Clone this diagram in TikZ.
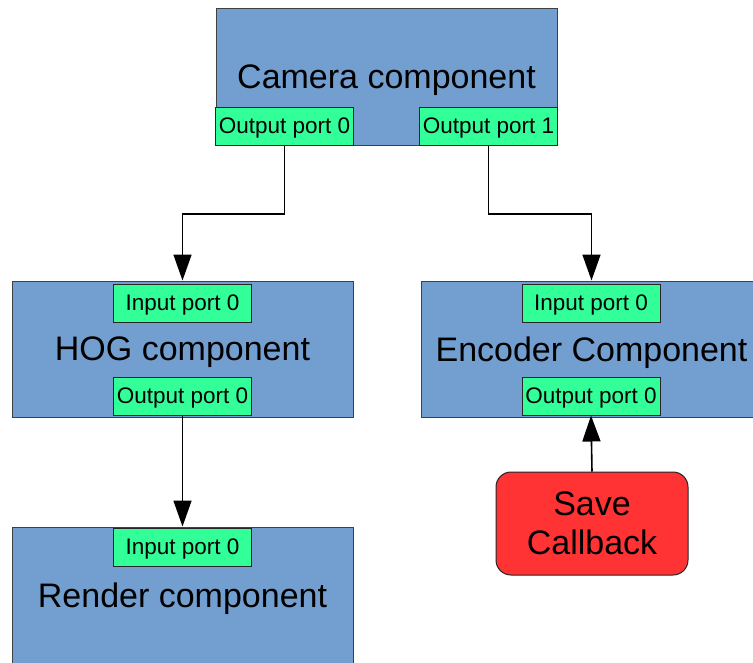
\documentclass[tikz,border=0pt]{standalone}
\usepackage{fontspec}
\setmainfont{Liberation Sans}
\usetikzlibrary{arrows.meta}
\definecolor{compblue}{HTML}{729FCF}
\definecolor{portgreen}{HTML}{33FF99}
\definecolor{cbred}{HTML}{FF3333}
\begin{document}
\begin{tikzpicture}[x=1pt,y=-1pt,
  comp/.style={draw=black!75, line width=1pt, fill=compblue, inner sep=0pt,
    minimum width=341pt, minimum height=136pt, text depth=0pt,
    font=\fontsize{34}{39}\selectfont},
  port/.style={draw=black!85, line width=1pt, fill=portgreen, inner sep=0pt,
    minimum width=138pt, minimum height=38pt, text depth=1.5pt,
    font=\fontsize{22.5}{26}\selectfont},
  callback/.style={draw=black!85, line width=1pt, fill=cbred, rounded corners=15pt,
    inner sep=0pt, minimum width=192pt, minimum height=103pt, align=center,
    text depth=0pt, font=\fontsize{34}{39}\selectfont},
  link/.style={line width=1.6pt, -{Triangle[length=26pt,width=18pt]}}]
\useasboundingbox (0,0) rectangle (753,662);
\clip (0,0) rectangle (753,662);

% components
\node[comp, minimum height=137pt] (cam) at (386.5,76.5) {Camera component};
\node[port] (cp0) at (284.5,126.5) {Output port 0};
\node[port] (cp1) at (488.5,126.5) {Output port 1};

\node[comp] (hog) at (182.5,349) {HOG component};
\node[port] (hin) at (182.5,303) {Input port 0};
\node[port] (hout) at (182.5,396) {Output port 0};

\node[comp] (enc) at (591.5,349) {Encoder Component};
\node[port] (ein) at (591,303) {Input port 0};
\node[port] (eout) at (591,396) {Output port 0};

\node[comp] (ren) at (182.5,595) {Render component};
\node[port] (rin) at (182.5,547.5) {Input port 0};

\node[callback] (save) at (592,523.5) {Save\\Callback};

% connectors
\draw[link] (cp0.south) -- ++(0,68) -| (hog.north);
\draw[link] (cp1.south) -- ++(0,68) -| (enc.north);
\draw[link] (hout.south) -- (ren.north);
\draw[link] (save.north) -- (eout.south);
\end{tikzpicture}
\end{document}
